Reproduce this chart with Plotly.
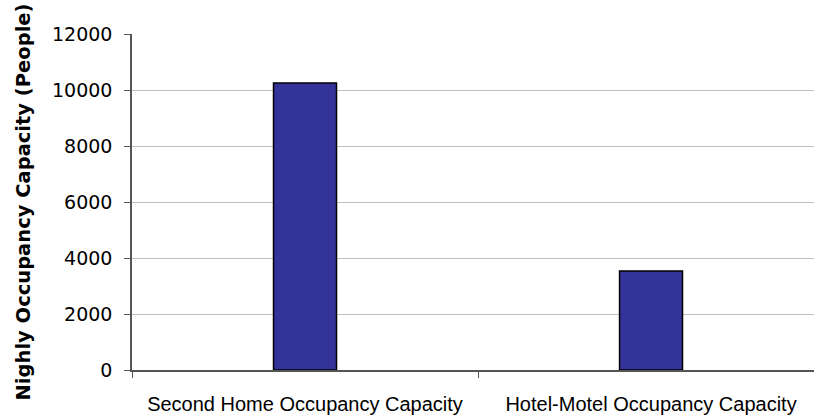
import plotly.graph_objects as go

# Nightly occupancy capacity by lodging type
categories = ["Second Home Occupancy Capacity", "Hotel-Motel Occupancy Capacity"]
capacity = [10250, 3540]
y_ticks = [0, 2000, 4000, 6000, 8000, 10000, 12000]
y_tick_labels = [str(v) for v in y_ticks]

fig = go.Figure(
    go.Bar(
        x=categories,
        y=capacity,
        width=0.182,
        marker=dict(color="#333399", line=dict(color="#000000", width=1.5)),
    )
)

fig.update_layout(
    width=814,
    height=418,
    margin=dict(l=132, r=0, t=34, b=48),
    paper_bgcolor="white",
    plot_bgcolor="white",
    showlegend=False,
    font=dict(family="Liberation Sans, Arial, sans-serif", color="#000000"),
)

fig.update_xaxes(
    range=[-0.5, 1.471],
    showgrid=False,
    showline=True,
    linecolor="#555555",
    linewidth=1.5,
    ticks="outside",
    tickson="boundaries",
    ticklen=6,
    tickcolor="#555555",
    tickfont=dict(family="Liberation Sans, Arial, sans-serif", size=20),
    ticklabelstandoff=15,
)

fig.update_yaxes(
    range=[0, 12000],
    tickvals=y_ticks,
    ticktext=y_tick_labels,
    showgrid=True,
    gridcolor="#c0c0c0",
    gridwidth=1,
    showline=True,
    linecolor="#555555",
    linewidth=1.5,
    ticks="outside",
    ticklen=6,
    tickcolor="#555555",
    tickfont=dict(family="DejaVu Sans, sans-serif", size=19),
    ticklabelstandoff=8,
    zeroline=False,
    title=dict(
        text="<b>Nighly Occupancy Capacity (People)</b>",
        font=dict(family="DejaVu Sans, sans-serif", size=19.5),
        standoff=16,
    ),
)

fig.write_html("out.html")
